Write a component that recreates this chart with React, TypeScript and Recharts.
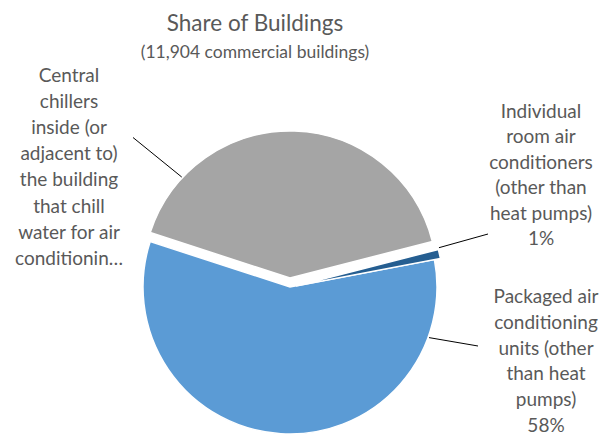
import React from 'react';
import { PieChart, Pie, Cell } from 'recharts';

// data (share of buildings, %)
const categories = [
  'Central chillers inside (or adjacent to) the building that chill water for air conditioning',
  'Individual room air conditioners (other than heat pumps)',
  'Packaged air conditioning units (other than heat pumps)',
];
const shares = [41, 1, 58];
const sliceColors = ['#A5A5A5', '#255E91', '#5B9BD5'];

// label text as wrapped in the reference
const labelLines = [
  ['Central', 'chillers', 'inside (or', 'adjacent to)', 'the building', 'that chill', 'water for air', 'conditionin…'],
  ['Individual', 'room air', 'conditioners', '(other than', 'heat pumps)', '1%'],
  ['Packaged air', 'conditioning', 'units (other', 'than heat', 'pumps)', '58%'],
];

const data = categories.map((name, i) => ({ name, value: shares[i] }));

const W = 602;
const H = 435;
const CX = 290;
const CY = 287;
const R = 147;
const FONT = 'Lato, "Open Sans", sans-serif';
const TEXT = '#595959';

// explode offset per slice and label placement
const explode = [
  { dx: 0, dy: -9 },
  { dx: 6, dy: -1 },
  { dx: 0, dy: 0 },
];
const labelLayout = [
  { x: 69, y: 82, gap: 26.1, angle: 137, endX: 133, endY: 137.5 },
  { x: 541, y: 118, gap: 25.4, angle: 15, endX: 488, endY: 234 },
  { x: 546, y: 303, gap: 25.8, angle: -20, endX: 478, endY: 346 },
];

const RAD = Math.PI / 180;

const makeLabel = (target: number) => (props: any) => {
  if (props.index !== target) return <g />;
  const l = labelLayout[target];
  const r = props.outerRadius + 1;
  const sx = props.cx + r * Math.cos(l.angle * RAD);
  const sy = props.cy - r * Math.sin(l.angle * RAD);
  return (
    <g>
      <line x1={sx} y1={sy} x2={l.endX} y2={l.endY} stroke="#000" strokeWidth={1} />
      <text x={l.x} y={l.y} textAnchor="middle" fill={TEXT} fontSize={19} fontFamily={FONT}>
        {labelLines[target].map((t, i) => (
          <tspan key={i} x={l.x} y={l.y + i * l.gap}>
            {t}
          </tspan>
        ))}
      </text>
    </g>
  );
};

const drawOrder = [2, 0, 1];

export default function App() {
  return (
    <div style={{ position: 'fixed', left: 0, top: 0, width: W, height: H, background: '#fff' }}>
      <PieChart width={W} height={H} margin={{ top: 0, right: 0, bottom: 0, left: 0 }}>
        {drawOrder.map((s) => (
          <Pie
            key={s}
            data={data}
            dataKey="value"
            nameKey="name"
            cx={CX + explode[s].dx}
            cy={CY + explode[s].dy}
            outerRadius={R}
            startAngle={162}
            endAngle={-198}
            stroke="none"
            label={makeLabel(s)}
            labelLine={false}
            isAnimationActive={false}
          >
            {data.map((d, i) => (
              <Cell key={i} fill={i === s ? sliceColors[i] : 'none'} stroke={i === s ? '#fff' : 'none'} strokeWidth={1.5} />
            ))}
          </Pie>
        ))}
      </PieChart>
      <svg width={W} height={70} style={{ position: 'absolute', left: 0, top: 0, pointerEvents: 'none' }}>
        <text x={255} y={31} textAnchor="middle" fill={TEXT} fontSize={22.5} fontFamily={FONT}>
          Share of Buildings
        </text>
        <text x={255} y={58} textAnchor="middle" fill={TEXT} fontSize={17.5} fontFamily={FONT}>
          (11,904 commercial buildings)
        </text>
      </svg>
    </div>
  );
}
